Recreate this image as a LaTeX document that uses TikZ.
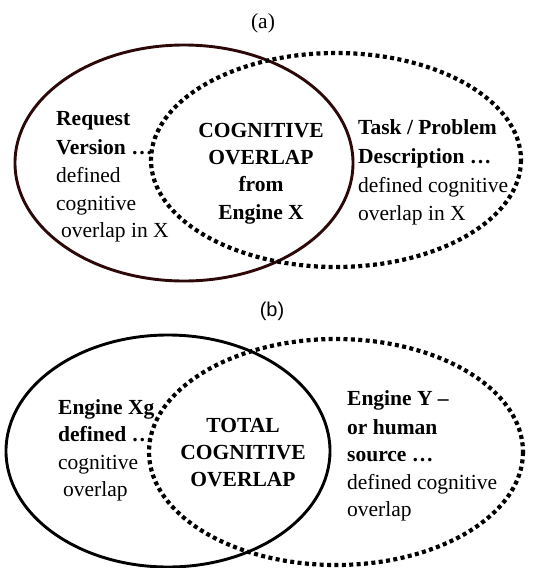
\documentclass[tikz,border=0pt]{standalone}
\usepackage{fontspec}
\setmainfont{Liberation Serif}
\newfontfamily\labelsans{Liberation Sans}
\definecolor{ringbrown}{RGB}{45,8,8}
\begin{document}
\begin{tikzpicture}[x=1pt,y=-1pt,
  txt/.style={inner sep=0pt,font=\fontsize{21.5}{25}\selectfont},
  lft/.style={txt,anchor=base west},
  ctr/.style={txt,anchor=base,font=\fontsize{21.5}{25}\selectfont\bfseries},
  bld/.style={lft,font=\fontsize{21.5}{25}\selectfont\bfseries},
  ring/.style={line width=2.9pt},
  dotring/.style={line width=4.2pt,dash pattern=on 4pt off 3.4pt}]
\useasboundingbox (0,0) rectangle (542,568);

% ---------- panel (a) ----------
\node[txt,anchor=base] (tagA) at (263,28) {(a)};
\draw[ring,ringbrown] (184,163) ellipse [x radius=169, y radius=118];
\draw[dotring] (336,160) ellipse [x radius=185, y radius=107];

\node[bld] (a1) at (56,125) {Request};
\node[bld] (a2) at (56,154) {Version …};
\node[lft] (a3) at (56,182) {defined};
\node[lft] (a4) at (56,210) {cognitive};
\node[lft] (a5) at (61,237) {overlap in X};

\node[ctr] (ac1) at (261,137) {COGNITIVE};
\node[ctr] (ac2) at (261,164) {OVERLAP};
\node[ctr] (ac3) at (261,191) {from};
\node[ctr] (ac4) at (261,219) {Engine X};

\node[bld] (ar1) at (358,134) {Task / Problem};
\node[bld] (ar2) at (358,163) {Description …};
\node[lft] (ar3) at (358,192) {defined cognitive};
\node[lft] (ar4) at (358,220) {overlap in X};

% ---------- panel (b) ----------
\node[txt,anchor=base,font=\labelsans\fontsize{20}{24}\selectfont] (tagB) at (272,316) {(b)};
\draw[ring] (168,451) ellipse [x radius=162, y radius=116];
\draw[dotring] (336,452) ellipse [x radius=187, y radius=113];

\node[bld] (b1) at (58,414) {Engine Xg};
\node[bld] (b2) at (58,441) {defined …};
\node[lft] (b3) at (58,469) {cognitive};
\node[lft] (b4) at (63,496) {overlap};

\node[ctr] (bc1) at (243,432) {TOTAL};
\node[ctr] (bc2) at (243,459) {COGNITIVE};
\node[ctr] (bc3) at (243,486) {OVERLAP};

\node[bld] (br1) at (347,405) {Engine Y –};
\node[bld] (br2) at (347,434) {or human};
\node[bld] (br3) at (347,461) {source …};
\node[lft] (br4) at (347,489) {defined cognitive};
\node[lft] (br5) at (347,516) {overlap};
\end{tikzpicture}
\end{document}
